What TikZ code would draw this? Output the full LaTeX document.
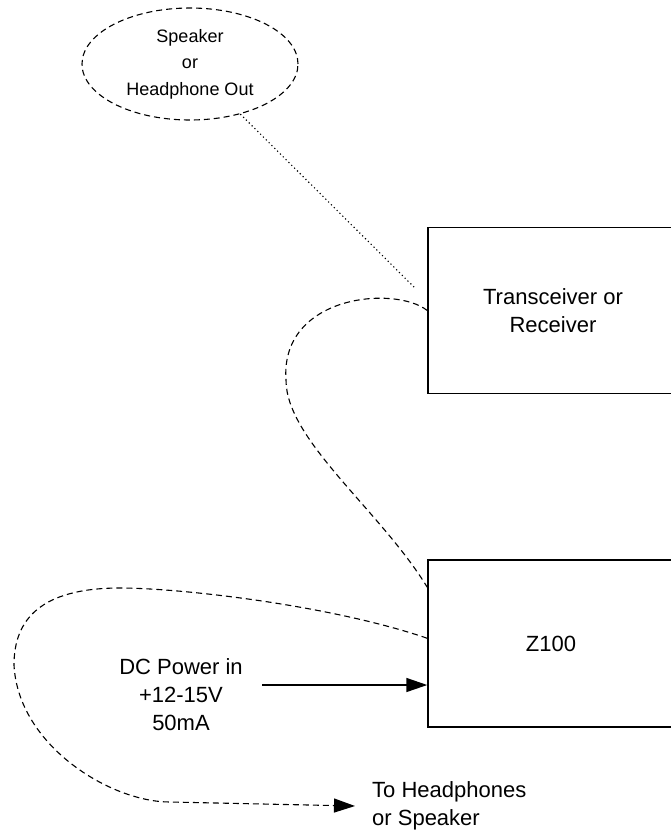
\documentclass[tikz,border=0pt]{standalone}
\usepackage{fontspec}
\setmainfont{Liberation Sans}
\usetikzlibrary{shapes.geometric,arrows.meta,calc}
\begin{document}
\begin{tikzpicture}[x=1pt,y=-1pt,
  box/.style={draw,line width=1.5pt,rectangle,inner sep=0pt},
  lbl/.style={font=\fontsize{22}{28}\selectfont,align=center},
  curvy/.style={line width=1.1pt,dash pattern=on 6pt off 4pt},
  dots/.style={line width=1.1pt,dash pattern=on 1.2pt off 2.8pt},
  arr/.style={-{Triangle[length=21pt,width=14pt]}}]
\clip (0,0) rectangle (671,831);
\useasboundingbox (0,0) rectangle (671,831);
\fill[white] (0,0) rectangle (671,831);
% boxes
\node[box,lbl,minimum width=250pt,minimum height=166pt] (trx) at (553,310.5) {Transceiver or\\Receiver};
\node[box,lbl,minimum width=246pt,minimum height=167pt] (z100) at (551,643.5) {Z100};
% speaker ellipse
\node[ellipse,draw,curvy,minimum width=216pt,minimum height=112pt,inner sep=0pt,
  font=\fontsize{18}{26.5}\selectfont,align=center] (spk) at (190,64) {Speaker\\or\\Headphone Out};
\coordinate (dotend) at (415,288);
\draw[dots] (spk) -- (dotend);
% cable transceiver -> Z100
\draw[curvy] (trx.west) .. controls (395,285) and (280,295) .. (286,380)
  .. controls (286,440) and (380,510) .. ([yshift=-28pt]z100.north west);
% output cable
\node[lbl,align=left,anchor=west,inner sep=0pt] (hp) at (372,806) {To Headphones\\or Speaker};
\draw[curvy,arr] ([yshift=-79pt]z100.north west) .. controls (330,605) and (180,588) .. (120,588)
  .. controls (40,588) and (14,620) .. (14,665)
  .. controls (18,745) and (110,802) .. (170,802) -- ([xshift=-17pt]hp.west);
% DC power
\node[lbl] (dc) at (181,695) {DC Power in\\+12-15V\\50mA};
\coordinate (dcstart) at (262,685);
\draw[line width=1.5pt,arr] (dcstart) -- (dcstart -| z100.west);
\end{tikzpicture}
\end{document}
